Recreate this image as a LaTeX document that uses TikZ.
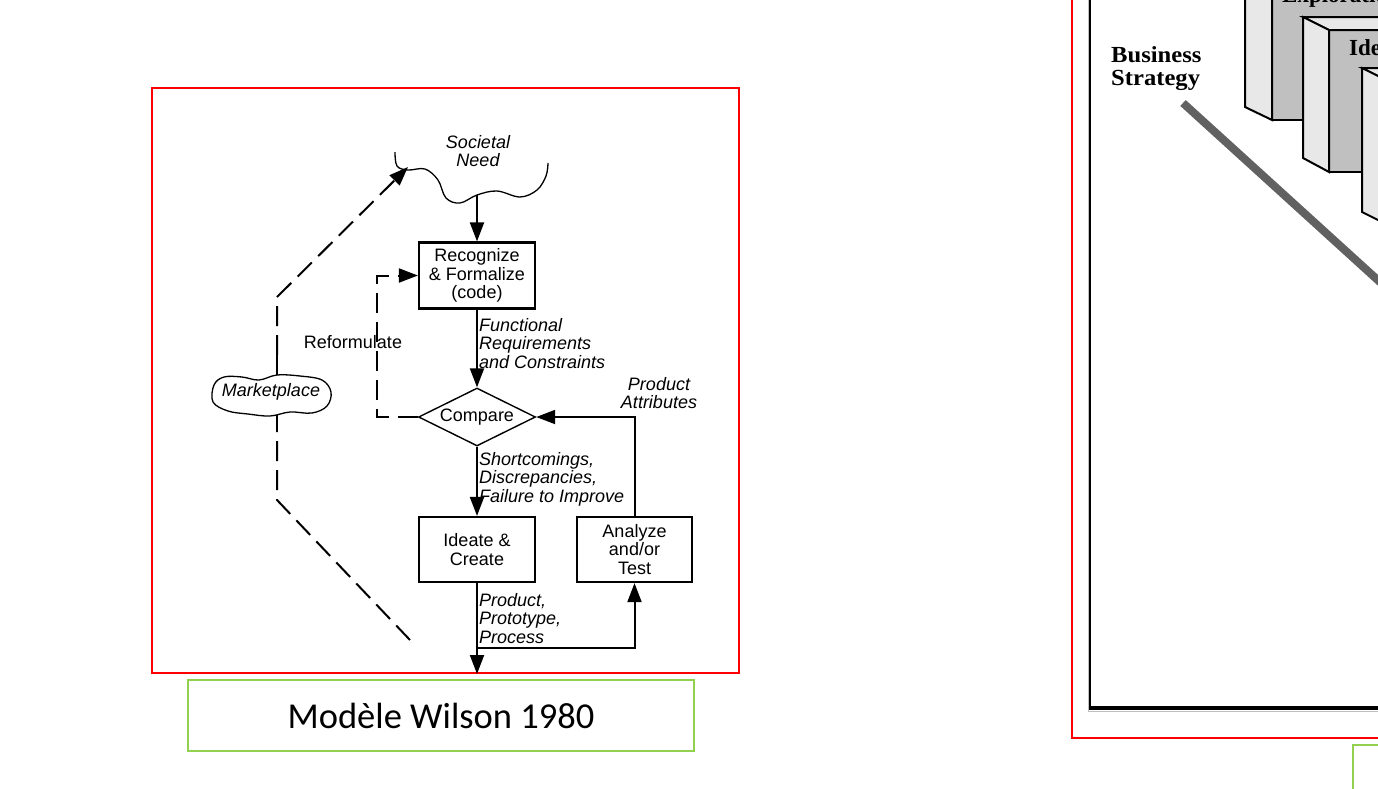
\documentclass[tikz,border=0pt]{standalone}
\usepackage{fontspec}
\setmainfont{Liberation Sans}
\newfontfamily\capfont{Carlito}
\newfontfamily\serfont{Liberation Serif}
\usetikzlibrary{shapes.geometric, arrows.meta, positioning}
\definecolor{capgreen}{RGB}{146,208,80}
\definecolor{panellight}{RGB}{232,232,232}
\definecolor{paneldark}{RGB}{192,192,192}

\begin{document}
\begin{tikzpicture}[x=1pt,y=-1pt,
  proc/.style={draw, line width=2.2pt, minimum width=116pt, minimum height=66pt, inner sep=0pt, align=center, font=\fontsize{18}{18.5}\selectfont},
  cmp/.style={draw, diamond, aspect=2, line width=1.4pt, minimum width=117pt, minimum height=58pt, inner sep=0pt, font=\fontsize{18}{18.5}\selectfont},
  lbl/.style={inner sep=0pt, align=left, font=\fontsize{18}{18.5}\selectfont\itshape},
  conn/.style={line width=2pt, -{Triangle[length=19pt,width=14pt]}},
  dashconn/.style={conn, dash pattern=on 20pt off 9pt},
  redframe/.style={draw=red, line width=1.5pt},
  boxedge/.style={line width=2pt, line join=miter}]
\useasboundingbox (0,0) rectangle (1378,788);
\clip (0,0) rectangle (1378,788);

% Wilson 1980
\draw[redframe] (152,88) rectangle (739,673);
\node[draw=capgreen, line width=1.8pt, minimum width=506pt, minimum height=71pt, font=\capfont\fontsize{36.5}{40}\selectfont] (caption) at (441,715.5) {Modèle Wilson 1980};

\node[lbl, align=center] (need) at (478,151) {Societal\\Need};
\draw[line width=1.3pt] plot[smooth, tension=0.6] coordinates {(395,152) (397,166) (408,170) (425,169) (438,180) (446,198) (460,203) (477,195) (497,191) (520,197) (537,190) (546,176) (548,163)};
\coordinate (needbot) at (477,195);
\coordinate (needleft) at (408,167);

\node[proc] (recog) at (477,275.5) {Recognize\\\& Formalize\\(code)};
\node[cmp] (compare) at (477,417) {Compare};
\node[proc, minimum height=65pt] (ideate) at (477,549.5) {Ideate \&\\Create};
\node[proc, minimum height=65pt, minimum width=115pt] (analyze) at (634.5,549.5) {Analyze\\and/or\\Test};

\node[lbl, anchor=north west] (funcreq) at (479,318) {Functional\\Requirements\\and Constraints};
\node[lbl, anchor=north west] (shortc) at (479,452) {Shortcomings,\\Discrepancies,\\Failure to Improve};
\node[lbl, anchor=north west] (prodout) at (479,593) {Product,\\Prototype,\\Process};
\node[lbl, align=center, anchor=north] (attrib) at (659,377) {Product\\Attributes};
\node[inner sep=0pt, font=\fontsize{18}{18.5}\selectfont] (reform) at (353,342) {Reformulate};

\coordinate (split) at (477,648);
\coordinate (outlet) at (477,674);
\coordinate (reformcorner) at (377,417);

\draw[conn] (needbot) -- (recog.north);
\draw[conn] (recog.south) -- (compare.north);
\draw[conn] (compare.south) -- (ideate.north);
\draw[conn] (ideate.south) -- (outlet);
\draw[conn] (split) -| (analyze.south);
\draw[conn] (analyze.north) |- (compare.east);
\draw[dashconn] (compare.west) -- (reformcorner) |- (recog.west);

% marketplace loop
\coordinate (mkend) at (410,640);
\coordinate (mklow) at (277,500);
\coordinate (mkmid) at (277,432);
\coordinate (mkmid2) at (277,355);
\coordinate (mkup) at (277,297);
\draw[line width=2pt, dash pattern=on 20pt off 9pt] (mkend) -- (mklow) -- (mkmid);
\draw[line width=2pt] (mkmid) -- (mkmid2);
\draw[dashconn] (mkmid2) -- (mkup) -- (needleft);
\draw[line width=1.3pt, fill=white] plot[smooth cycle, tension=0.6] coordinates {(214,385) (224,377) (242,377) (259,380) (277,375) (300,376) (322,380) (331,392) (327,406) (312,413) (290,412) (270,416) (248,414) (228,411) (213,402)};
\node[lbl] (market) at (271,392) {Marketplace};

% neighbouring figure, cut off at the page edge
\draw[redframe] (1072,-10) -- (1072,738) -- (1390,738);
\draw[black!25, line width=1pt] (1088,-10) -- (1088,711) -- (1390,711);
\draw[line width=2pt] (1090,-10) -- (1090,707);
\draw[line width=4pt] (1089,708) -- (1390,708);
\draw[draw=capgreen, line width=1.8pt] (1353,800) -- (1353,745) -- (1390,745);

\node[inner sep=0pt, anchor=north west, align=left, xscale=1.07, font=\serfont\bfseries\fontsize{23}{23.5}\selectfont] (strategy) at (1111,46) {Business\\Strategy};
\draw[black!62, line width=8pt] (1183,103) -- (1392,293);

\fill[paneldark] (1272,-10) rectangle (1392,120);
\node[anchor=base west, inner sep=0pt, font=\serfont\bfseries\fontsize{23}{24}\selectfont] (explor) at (1282,2) {Exploration};
\filldraw[fill=panellight, boxedge] (1245,-10) -- (1245,107) -- (1272,120) -- (1272,-10);
\draw[boxedge] (1272,120) -- (1305,120);

\fill[paneldark] (1329,30) rectangle (1392,172);
\filldraw[fill=panellight, boxedge] (1392,17) -- (1303,17) -- (1329,30) -- (1392,30);
\filldraw[fill=panellight, boxedge] (1303,17) -- (1303,158) -- (1329,172) -- (1329,30) -- cycle;
\draw[boxedge] (1329,172) -- (1364,172);
\node[anchor=base west, inner sep=0pt, font=\serfont\bfseries\fontsize{23}{24}\selectfont] (ideation) at (1349,55) {Ideation};

\filldraw[fill=panellight, boxedge] (1392,68) -- (1362,68) -- (1392,83);
\filldraw[fill=panellight, boxedge] (1362,68) -- (1362,212) -- (1394,228) -- (1394,84) -- cycle;
\end{tikzpicture}
\end{document}
